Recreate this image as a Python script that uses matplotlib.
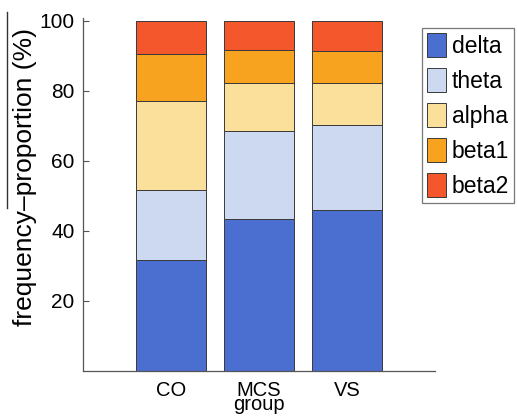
import matplotlib
matplotlib.use("Agg")
import matplotlib.pyplot as plt
import numpy as np
from matplotlib.lines import Line2D

groups = ["CO", "MCS", "VS"]
bands = ["delta", "theta", "alpha", "beta1", "beta2"]
delta = [31.7, 43.3, 46.0]
theta = [20.0, 25.3, 24.3]
alpha = [25.4, 13.8, 11.9]
beta1 = [13.5, 9.3, 9.2]
beta2 = [9.4, 8.3, 8.6]
colors = ["#4b6fd0", "#cdd8f1", "#fbe09c", "#f7a31f", "#f4572b"]
yticks = [20, 40, 60, 80, 100]

plt.rcParams["font.family"] = ["Liberation Sans", "DejaVu Sans"]
fig = plt.figure(figsize=(5.17, 4.18), dpi=100)
ax = fig.add_axes([83/517, 1-371/418, (435-83)/517, (371-17.5)/418])

x = np.arange(1, len(groups) + 1)
bottom = np.zeros(len(groups))
for name, vals, c in zip(bands, [delta, theta, alpha, beta1, beta2], colors):
    ax.bar(x, vals, width=0.8, bottom=bottom, color=c, edgecolor="#3a3a3a",
           linewidth=0.7, label=name)
    bottom += np.array(vals)

ax.set_xlim(0, 4)
ax.set_ylim(0, 101)
ax.set_yticks(yticks)
ax.set_xticks(x)
ax.set_xticklabels(groups, fontsize=14.5)
ax.tick_params(axis="y", labelsize=15, direction="in", length=4, color="#555555", pad=6)
ax.tick_params(axis="x", direction="in", length=0, pad=7.5)
for s in ["top", "right"]:
    ax.spines[s].set_visible(False)
for s in ["left", "bottom"]:
    ax.spines[s].set_color("#555555")
    ax.spines[s].set_linewidth(0.9)

ax.set_xlabel("group", fontsize=14.5)
ax.xaxis.label.set_va("baseline")
ax.xaxis.set_label_coords(0.5, (371 - 410) / 353.5)
fig.text(25/517, 1-177/418, "frequency\u2013proportion (%)", rotation=90,
         fontsize=19, ha="center", va="center")
fig.add_artist(Line2D([7/517, 7/517], [1-12/418, 1-208/418], color="#333333", lw=1))

fs = 16.5
px = fs * 100 / 72
leg = ax.legend(loc="upper left", bbox_to_anchor=(422/517, 1-28/418),
                bbox_transform=fig.transFigure, fontsize=fs, frameon=True,
                fancybox=False, borderaxespad=0, handlelength=19/px,
                handleheight=29/px, handletextpad=6/px, labelspacing=10/px,
                borderpad=5/px)
leg.get_frame().set_edgecolor("#555555")
leg.get_frame().set_linewidth(0.9)

fig.savefig("out.png", dpi=100)
